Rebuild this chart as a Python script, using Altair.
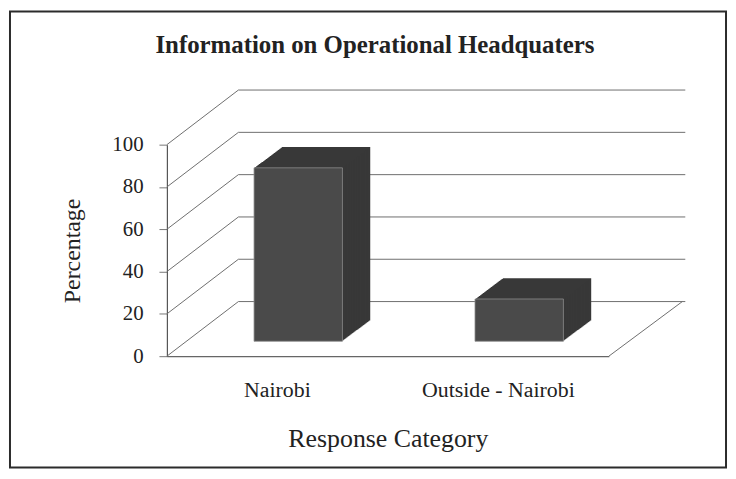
import altair as alt
import pandas as pd

# ---- data ----
categories = ["Nairobi", "Outside - Nairobi"]
percentages = [82, 20]
y_ticks = [0, 20, 40, 60, 80, 100]

bars = pd.DataFrame({"category": categories, "percentage": percentages})
grid = pd.DataFrame({"tick": y_ticks})
floor = pd.DataFrame({"tick": [0]})
one = pd.DataFrame({"k": [0]})

W, H = 445, 213
FONT = "Liberation Serif"
# depth of the back wall and of the bars (3-D look)
WALL_DX, WALL_DY = 72, -55
BAR_FX, BAR_FY = 21, -15      # front face of bars
BAR_DX, BAR_DY = 28, -21      # bar depth
GRID_COLOR = "#6e6e6e"

yscale = alt.Scale(domain=[0, 100], nice=False)
xscale = alt.Scale(domain=categories, paddingInner=0.6, paddingOuter=0.3)

xaxis = alt.Axis(
    title="Response Category", labelAngle=0, ticks=False, tickSize=0,
    labelPadding=24, labelFont=FONT, labelFontSize=22, labelColor="#222",
    titleFont=FONT, titleFontSize=26, titleFontWeight="normal", titleColor="#222",
    titlePadding=25, domainColor="#666", domainWidth=1.2, grid=False,
)
yaxis = alt.Axis(
    title="Percentage", values=y_ticks, grid=False, tickSize=8, tickColor="#777",
    labelPadding=16, labelFont=FONT, labelFontSize=21, labelColor="#222",
    titleFont=FONT, titleFontSize=24, titleFontWeight="normal", titleColor="#222",
    titlePadding=27, domainColor="#555", domainWidth=1.2,
)

# outer frame
frame = alt.Chart(one).mark_rect(filled=False, stroke="#2b2b2b", strokeWidth=2).encode(
    x=alt.value(-158), x2=alt.value(W + 118), y=alt.value(-134), y2=alt.value(H + 112)
)

# back wall grid lines
wall = alt.Chart(grid).mark_rule(color=GRID_COLOR, strokeWidth=1, yOffset=WALL_DY).encode(
    y=alt.Y("tick:Q", scale=yscale, axis=yaxis),
    x=alt.value(WALL_DX),
    x2=alt.value(W + 77),
)

# side wall diagonals from front axis to back wall
diag = alt.Chart(grid).mark_rule(color=GRID_COLOR, strokeWidth=1, y2Offset=WALL_DY).encode(
    y=alt.Y("tick:Q", scale=yscale, axis=yaxis),
    y2="tick:Q",
    x=alt.value(0),
    x2=alt.value(WALL_DX),
)

# right edge of floor
floor_edge = alt.Chart(floor).mark_rule(color=GRID_COLOR, strokeWidth=1, y2Offset=WALL_DY).encode(
    y=alt.Y("tick:Q", scale=yscale, axis=yaxis),
    y2="tick:Q",
    x=alt.value(W),
    x2=alt.value(W + WALL_DX + 2),
)

# extruded bar body (back to front)
N = 28
body_layers = []
for k in range(N, 0, -1):
    ox = BAR_FX + BAR_DX * k / N
    oy = BAR_FY + BAR_DY * k / N
    body_layers.append(
        alt.Chart(bars).mark_bar(color="#383838", xOffset=ox, yOffset=oy, y2Offset=oy).encode(
            x=alt.X("category:N", scale=xscale, axis=xaxis),
            y=alt.Y("percentage:Q", scale=yscale, axis=yaxis),
        )
    )

front = alt.Chart(bars).mark_bar(
    color="#4a4a4a", stroke="#8c8c8c", strokeWidth=0.8,
    xOffset=BAR_FX, yOffset=BAR_FY, y2Offset=BAR_FY,
).encode(
    x=alt.X("category:N", scale=xscale, axis=xaxis),
    y=alt.Y("percentage:Q", scale=yscale, axis=yaxis),
)

chart = alt.layer(frame, wall, diag, floor_edge, *body_layers, front).properties(
    width=W,
    height=H,
    background="white",
    title=alt.TitleParams(
        "Information on Operational Headquaters",
        font=FONT, fontSize=25, fontWeight="bold", color="#222",
        anchor="middle", dx=-13, offset=-48,
    ),
    autosize=alt.AutoSizeParams(type="none"),
    padding={"left": 160, "top": 136, "right": 120, "bottom": 114},
).configure_view(stroke=None)

chart.save("out.html", embed_options={"renderer": "svg", "actions": False})
